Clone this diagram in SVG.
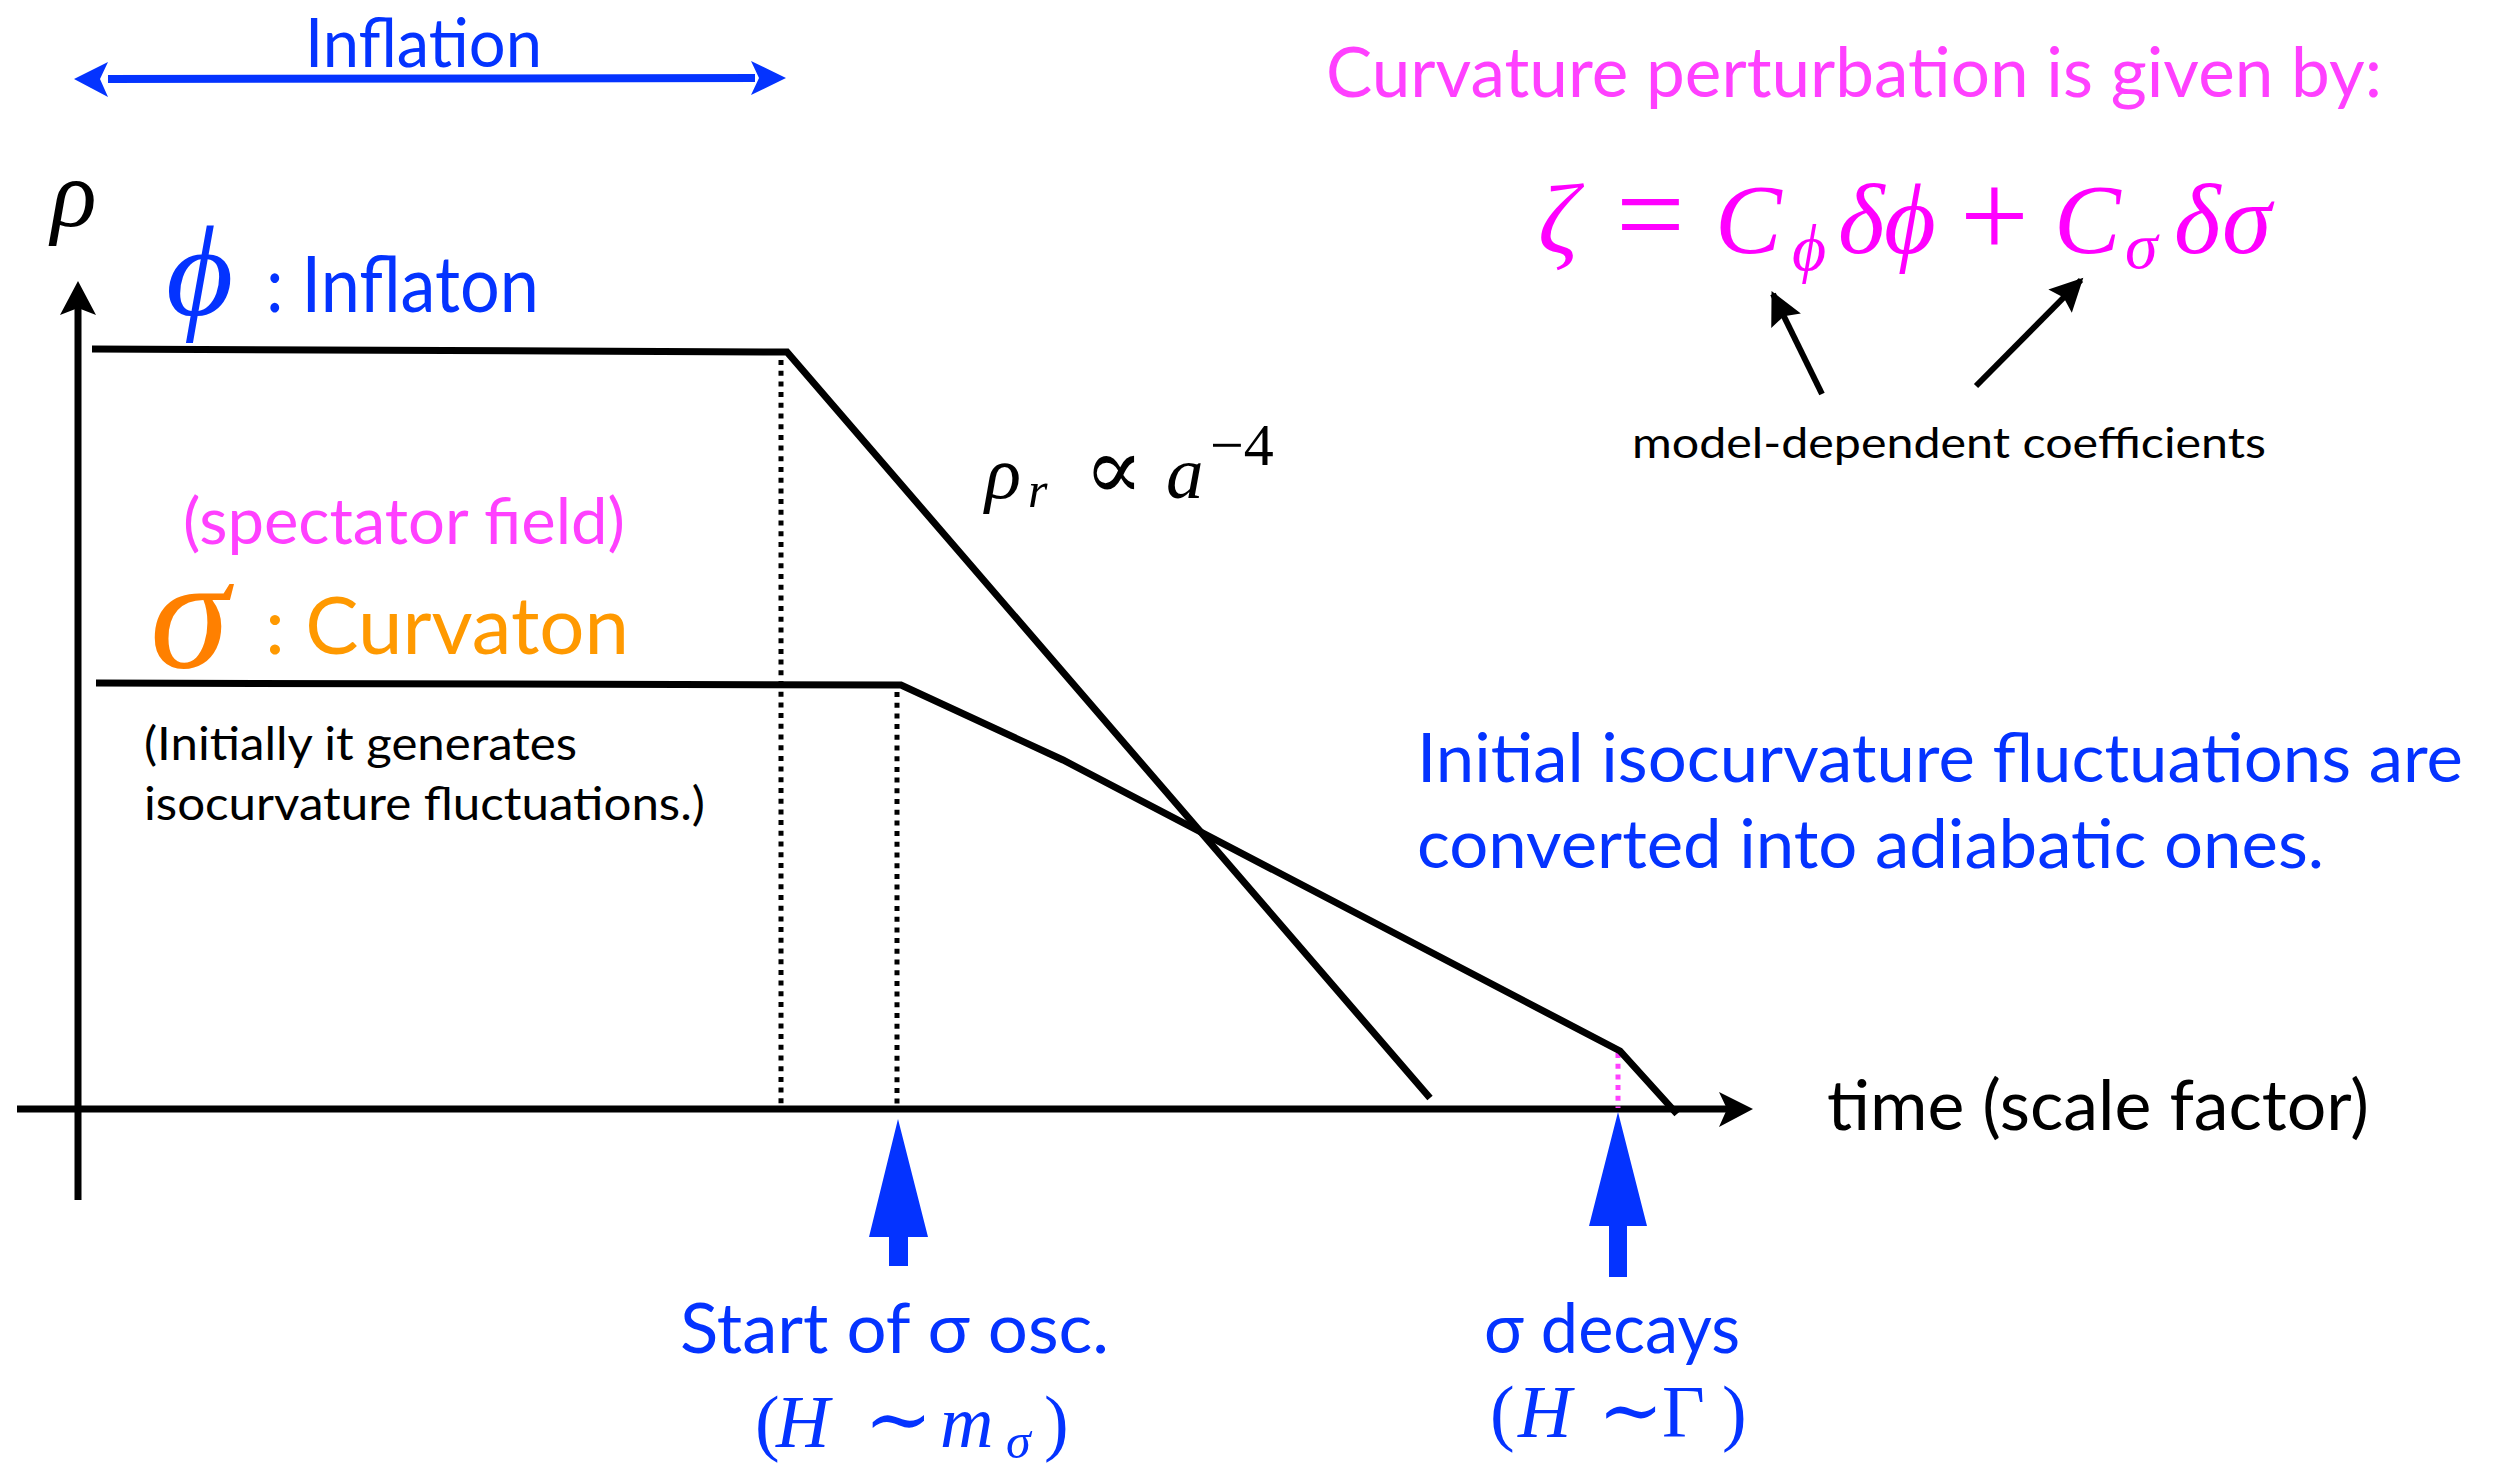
<svg xmlns="http://www.w3.org/2000/svg" width="2493" height="1466" viewBox="0 0 2493 1466">
<style>
.g{font-family:Lato,"Liberation Sans",sans-serif}
.m{font-family:"Liberation Serif","DejaVu Serif",serif;font-style:italic}
.r{font-family:"Liberation Serif","DejaVu Serif",serif;font-style:normal}
.blue{fill:#0433FF}
.pink{fill:#FF40FF}
.mag{fill:#FF00FF}
.blk{fill:#000}
.ln{fill:none;stroke:#000;stroke-width:7;stroke-linejoin:miter;stroke-linecap:butt}
.dot{fill:none;stroke:#000;stroke-width:5;stroke-dasharray:5 5.7}
.mdot{fill:none;stroke:#FF40FF;stroke-width:5;stroke-dasharray:5 5.7}
</style>
<defs>
<marker id="ah" viewBox="0 0 10 10" refX="9" refY="5" markerWidth="7" markerHeight="5.5" markerUnits="strokeWidth" orient="auto">
<path d="M0,0 L10,5 L0,10 L1.5,5 Z" fill="#000"/>
</marker>
</defs>
<rect width="2493" height="1466" fill="#fff"/>

<g id="axes">
<line class="ln" x1="78" y1="1200" x2="78" y2="305" stroke-width="8"/>
<polygon points="78,281 60,315 78,308 96,315" fill="#000"/>
<line class="ln" x1="17" y1="1109" x2="1730" y2="1109" stroke-width="8"/>
<polygon points="1753,1109 1719,1092 1727,1109 1719,1127" fill="#000"/>
</g>

<g id="guides">
<line class="dot" x1="781" y1="360" x2="781" y2="1104"/>
<line class="dot" x1="897" y1="692" x2="897" y2="1104"/>
<line class="mdot" x1="1618" y1="1053" x2="1618" y2="1108"/>
</g>

<g id="curve-inflaton">
<polyline class="ln" points="92,349 787,352 1430,1098"/>
</g>
<g id="curve-curvaton">
<polyline class="ln" points="96,683 901,685 1063,760 1620,1051 1677,1114"/>
</g>

<g id="connectors">
<line x1="108" y1="79" x2="755" y2="78" stroke="#0433FF" stroke-width="8"/>
<polygon points="74,79 108,62 100,79 108,97" fill="#0433FF"/>
<polygon points="786,78 751,61 759,78 751,95" fill="#0433FF"/>
<line x1="1822" y1="394" x2="1773" y2="294" stroke="#000" stroke-width="6" marker-end="url(#ah)"/>
<line x1="1976" y1="386" x2="2081" y2="280" stroke="#000" stroke-width="6" marker-end="url(#ah)"/>
<polygon points="898,1119 869,1237 889,1237 889,1266 908,1266 908,1237 928,1237" fill="#0433FF"/>
<polygon points="1618,1112 1589,1226 1609,1226 1609,1277 1627,1277 1627,1226 1647,1226" fill="#0433FF"/>
</g>

<g id="label-inflation">
<text class="g blue" x="305" y="67" font-size="67" textLength="237" lengthAdjust="spacingAndGlyphs">Inflation</text>
</g>

<g id="label-rho">
<text class="m blk" x="51" y="226" font-size="95">ρ</text>
</g>

<g id="node-inflaton">
<text class="m" x="166" y="315" font-size="130" fill="#0433FF">ϕ</text>
<text class="g blue" x="266" y="312" font-size="77" textLength="273" lengthAdjust="spacingAndGlyphs">: Inflaton</text>
</g>

<g id="label-spectator">
<text class="g pink" x="183" y="544" font-size="64" textLength="442" lengthAdjust="spacingAndGlyphs">(spectator field)</text>
</g>

<g id="node-curvaton">
<text class="m" x="150" y="667" font-size="160" fill="#FF8000">σ</text>
<text class="g" x="265" y="654" font-size="80" fill="#FF9900" textLength="364" lengthAdjust="spacingAndGlyphs">: Curvaton</text>
</g>

<g id="label-initially">
<text class="g blk" x="144" y="760" font-size="46" textLength="433" lengthAdjust="spacingAndGlyphs">(Initially it generates</text>
<text class="g blk" x="144" y="820" font-size="46" textLength="561" lengthAdjust="spacingAndGlyphs">isocurvature fluctuations.)</text>
</g>

<g id="label-rhor">
<text class="m blk" font-size="75"><tspan x="985" y="498">ρ</tspan><tspan x="1028" y="507" font-size="50">r</tspan><tspan class="r" x="1084" y="499" font-size="88">∝</tspan><tspan x="1166" y="498">a</tspan><tspan class="r" x="1210" y="465" font-size="60">−4</tspan></text>
</g>

<g id="label-curvature">
<text class="g pink" x="1326" y="97" font-size="70" textLength="1056" lengthAdjust="spacingAndGlyphs">Curvature perturbation is given by:</text>
</g>

<g id="formula">
<text class="m mag" font-size="100"><tspan x="1538" y="253">ζ</tspan><tspan class="r" x="1616" y="255" font-size="122">=</tspan><tspan x="1715" y="253">C</tspan><tspan x="1792" y="270" font-size="66">ϕ</tspan><tspan x="1838" y="253">δ</tspan><tspan x="1884" y="253">ϕ</tspan><tspan class="r" x="1960" y="257" font-size="122">+</tspan><tspan x="2054" y="253">C</tspan><tspan x="2125" y="268" font-size="66">σ</tspan><tspan x="2174" y="253">δ</tspan><tspan x="2222" y="253">σ</tspan></text>
</g>

<g id="label-coefficients">
<text class="g blk" x="1632" y="458" font-size="43" textLength="634" lengthAdjust="spacingAndGlyphs">model-dependent coefficients</text>
</g>

<g id="label-converted">
<text class="g blue" x="1417" y="782" font-size="68" textLength="1046" lengthAdjust="spacingAndGlyphs">Initial isocurvature fluctuations are</text>
<text class="g blue" x="1417" y="868" font-size="68" textLength="907" lengthAdjust="spacingAndGlyphs">converted into adiabatic ones.</text>
</g>

<g id="label-time">
<text class="g blk" x="1827" y="1130" font-size="70" textLength="542" lengthAdjust="spacingAndGlyphs">time (scale factor)</text>
</g>

<g id="label-start">
<text class="g blue" x="680" y="1353" font-size="70" textLength="429" lengthAdjust="spacingAndGlyphs">Start of σ osc.</text>
<text class="m blue" font-size="74"><tspan class="r" x="755" y="1447">(</tspan><tspan x="776" y="1447">H</tspan><tspan class="r" x="864" y="1447" font-size="82">∼</tspan><tspan x="940" y="1447">m</tspan><tspan x="1006" y="1458" font-size="50">σ</tspan><tspan class="r" x="1044" y="1447">)</tspan></text>
</g>

<g id="label-decays">
<text class="g blue" x="1484" y="1353" font-size="70" textLength="256" lengthAdjust="spacingAndGlyphs">σ decays</text>
<text class="m blue" font-size="74"><tspan class="r" x="1490" y="1437">(</tspan><tspan x="1518" y="1437">H</tspan><tspan class="r" x="1598" y="1437" font-size="78">∼</tspan><tspan class="r" x="1662" y="1437">Γ</tspan><tspan class="r" x="1722" y="1437">)</tspan></text>
</g>
</svg>
